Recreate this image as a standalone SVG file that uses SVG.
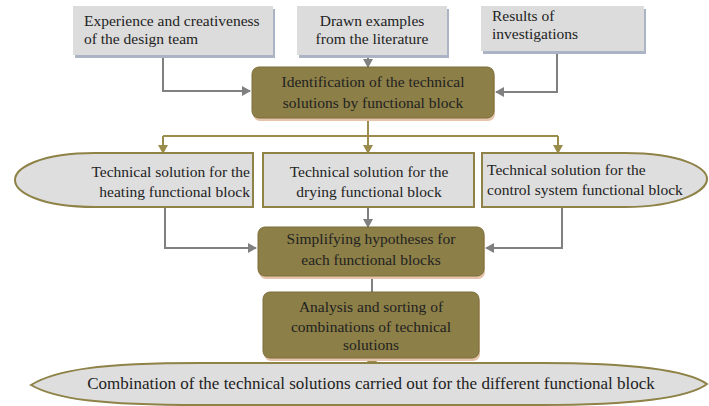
<svg xmlns="http://www.w3.org/2000/svg" width="709" height="406" viewBox="0 0 709 406">
<defs>
<style>
text{font-family:'Liberation Serif','DejaVu Serif',serif;fill:#222222}
.t15{font-size:15.5px}
.t16{font-size:17px}
.gray{fill:#dcdcdc}
.gshadow{fill:#aab4c4}
.olive{fill:#8c7f47;stroke:#7a6e3a;stroke-width:1}
.oshadow{fill:#e6c3ab}
.mid{fill:#dedede;stroke:#8e8247;stroke-width:2}
.cg{fill:none;stroke:#808080;stroke-width:2}
.co{fill:none;stroke:#9a8c4a;stroke-width:2}
</style>
<marker id="ag" markerWidth="10" markerHeight="10" refX="8" refY="5" orient="auto" markerUnits="userSpaceOnUse"><path d="M0,0 L9,5 L0,10 Z" fill="#808080"/></marker>
<marker id="ao" markerWidth="10" markerHeight="10" refX="8" refY="5" orient="auto" markerUnits="userSpaceOnUse"><path d="M0,0 L9,5 L0,10 Z" fill="#9a8c4a"/></marker>
</defs>
<rect width="709" height="406" fill="#ffffff"/>

<g id="connectors">
<path class="cg" d="M163,56 L163,91 L250,91" marker-end="url(#ag)"/>
<path class="cg" d="M368,58 L368,67" marker-end="url(#ag)"/>
<path class="cg" d="M557,54 L557,92 L496,92" marker-end="url(#ag)"/>
<path class="co" d="M368,119 L368,136"/>
<path class="co" d="M163,136 L558,136"/>
<path class="co" d="M163,136 L163,153" marker-end="url(#ao)"/>
<path class="co" d="M368,136 L368,153" marker-end="url(#ao)"/>
<path class="co" d="M558,136 L558,153" marker-end="url(#ao)"/>
<path class="cg" d="M165,208 L165,248 L256,248" marker-end="url(#ag)"/>
<path class="cg" d="M368,208 L368,227" marker-end="url(#ag)"/>
<path class="cg" d="M562,208 L562,248 L486,248" marker-end="url(#ag)"/>
<path class="cg" d="M372,278 L372,292"/>
<path class="co" d="M372,359 L372,369" marker-end="url(#ao)"/>
</g>

<g id="n1">
<rect class="gshadow" x="75" y="9" width="200" height="49"/>
<rect class="gray" x="73" y="6" width="200" height="49"/>
<text class="t15" x="84" y="26">Experience and creativeness</text>
<text class="t15" x="84" y="44">of the design team</text>
</g>
<g id="n2">
<rect class="gshadow" x="299" y="9" width="150" height="49"/>
<rect class="gray" x="297" y="6" width="150" height="49"/>
<text class="t15" x="372" y="26" text-anchor="middle">Drawn examples</text>
<text class="t15" x="372" y="44" text-anchor="middle">from the literature</text>
</g>
<g id="n3">
<rect class="gshadow" x="483" y="9" width="163" height="45"/>
<rect class="gray" x="481" y="6" width="163" height="45"/>
<text class="t15" x="492" y="21">Results of</text>
<text class="t15" x="492" y="39">investigations</text>
</g>

<g id="n4">
<rect class="oshadow" x="253" y="70" width="242" height="51" rx="7"/>
<rect class="olive" x="252" y="67" width="242" height="51" rx="7"/>
<text class="t15" x="373" y="87" text-anchor="middle">Identification of the technical</text>
<text class="t15" x="373" y="108" text-anchor="middle">solutions by functional block</text>
</g>

<g id="n5">
<path class="mid" d="M253,153 L95,153 C40,153 15,168 15,180 C15,192 40,207 95,207 L253,207 Z"/>
<text class="t15" x="250" y="177" text-anchor="end">Technical solution for the</text>
<text class="t15" x="250" y="197" text-anchor="end">heating functional block</text>
</g>
<g id="n6">
<rect class="mid" x="263" y="153" width="211" height="54"/>
<text class="t15" x="369" y="177" text-anchor="middle">Technical solution for the</text>
<text class="t15" x="369" y="197" text-anchor="middle">drying functional block</text>
</g>
<g id="n7">
<path class="mid" d="M482,153 L625,153 C682,153 707,168 707,179 C707,190 682,207 625,207 L482,207 Z"/>
<text class="t15" x="487" y="175">Technical solution for the</text>
<text class="t15" x="487" y="195">control system functional block</text>
</g>

<g id="n8">
<rect class="oshadow" x="259" y="230" width="226" height="49" rx="7"/>
<rect class="olive" x="258" y="227" width="226" height="49" rx="7"/>
<text class="t15" x="371" y="244" text-anchor="middle">Simplifying hypotheses for</text>
<text class="t15" x="371" y="265" text-anchor="middle">each functional blocks</text>
</g>

<g id="n9">
<rect class="oshadow" x="264" y="295" width="216" height="66" rx="7"/>
<rect class="olive" x="263" y="292" width="216" height="66" rx="7"/>
<text class="t15" x="371" y="312" text-anchor="middle">Analysis and sorting of</text>
<text class="t15" x="371" y="332" text-anchor="middle">combinations of technical</text>
<text class="t15" x="371" y="350" text-anchor="middle">solutions</text>
</g>

<g id="n10">
<path class="mid" d="M31,385 C55,370 100,363 200,363 L540,363 C640,363 690,372 707,384 C690,397 640,405 540,405 L200,405 C100,405 55,399 31,385 Z"/>
<text class="t16" x="371" y="389" text-anchor="middle">Combination of the technical solutions carried out for the different functional block</text>
</g>
</svg>
